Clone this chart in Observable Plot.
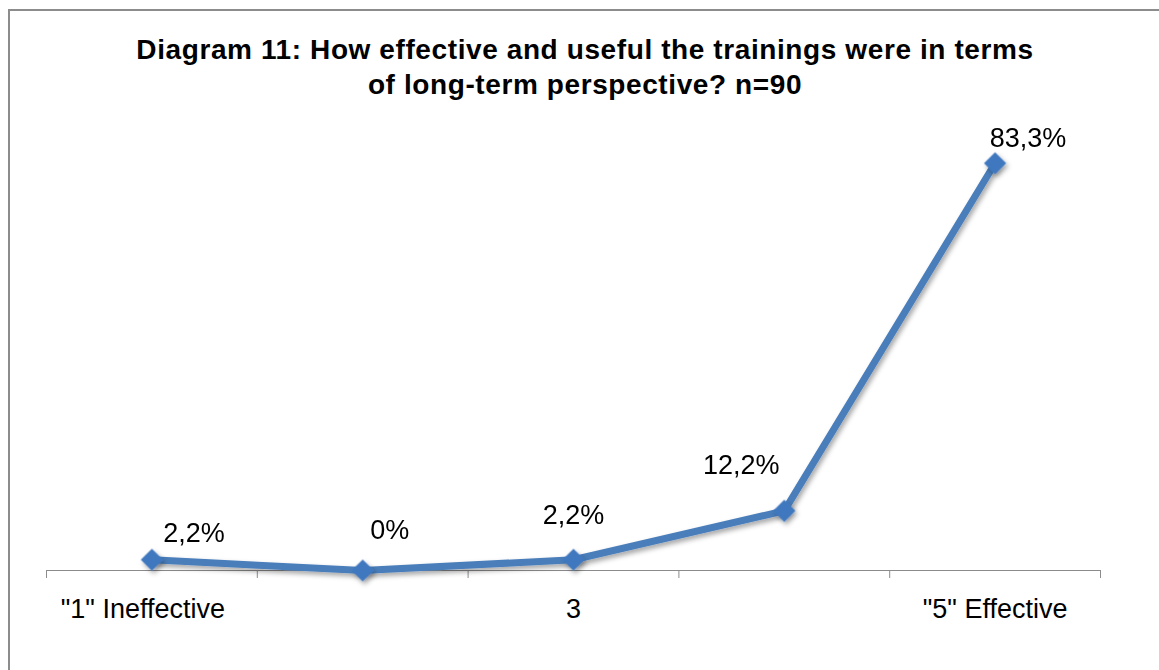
<!DOCTYPE html>
<html>
<head>
<meta charset="utf-8">
<script src="https://cdn.jsdelivr.net/npm/d3@7"></script>
<script src="https://cdn.jsdelivr.net/npm/@observablehq/plot@0.6"></script>
<style>
  html, body { margin: 0; padding: 0; background: #fff; width: 1159px; height: 670px; overflow: hidden; }
  #frame { position: absolute; left: 8px; top: 9px; width: 1200px; height: 700px;
           border-left: 2px solid #8c8c8c; border-top: 2px solid #8c8c8c; }
  #title { position: absolute; left: 11px; top: 0; width: 1148px; padding-top: 32px;
           text-align: center; font-family: "Liberation Sans", Arial, sans-serif; font-weight: bold;
           font-size: 28px; line-height: 35px; color: #000; letter-spacing: 0.6px; }
  #chart { position: absolute; left: 0; top: 110px; }
</style>
</head>
<body>
<div id="frame"></div>
<div id="title">Diagram 11: How effective and useful the trainings were in terms<br>of long-term perspective? n=90</div>
<div id="chart"></div>
<script>
const categories = ["\"1\" Ineffective", "2", "3", "4", "\"5\" Effective"];
const tickLabels = ["\"1\" Ineffective", "", "3", "", "\"5\" Effective"];
const values = [2.2, 0, 2.2, 12.2, 83.3];
const valueLabels = ["2,2%", "0%", "2,2%", "12,2%", "83,3%"];

const data = categories.map((c, i) => ({pos: i + 1, cat: c, value: values[i], label: valueLabels[i], tick: tickLabels[i]}));
const boundaries = d3.range(0, categories.length + 1).map(i => i + 0.5);

// label placement (style config, pixels)
const labelOffsets = [[42, -26], [27, -40], [0, -44], [-43, -45], [33, -25]];
const tickDx = [-9, 0, 0, 0, 0];

const blue = "#4a7ebb";
const font = "Liberation Sans, Arial, sans-serif";

const chart = Plot.plot({
  width: 1159,
  height: 560,
  marginLeft: 46,
  marginRight: 59,
  marginTop: 20,
  marginBottom: 100,
  style: {fontFamily: font, background: "transparent", overflow: "visible"},
  x: {domain: [0.5, categories.length + 0.5], axis: null},
  y: {domain: [0, 90], axis: null},
  marks: [
    Plot.ruleY([0], {stroke: "#8c8c8c", strokeWidth: 1}),
    Plot.axisX(boundaries, {tickSize: 8, tickFormat: () => "", label: null, stroke: "#8c8c8c", strokeWidth: 1}),
    ...data.filter(d => d.tick !== "").map(d => Plot.text([d], {x: "pos", text: "tick", frameAnchor: "bottom", dx: tickDx[d.pos - 1], dy: 47, fontSize: 27, fill: "#000"})),
    Plot.line(data, {x: "pos", y: "value", stroke: blue, strokeWidth: 7, strokeLinejoin: "round"}),
    Plot.dot(data, {x: "pos", y: "value", symbol: "diamond2", r: 10, fill: "#4078bf", stroke: "none"}),
    ...data.map((d, i) => Plot.text([d], {x: "pos", y: "value", text: "label", dx: labelOffsets[i][0], dy: labelOffsets[i][1], fontSize: 27, fill: "#000"}))
  ]
});

// drop shadow filter
const svg = d3.select(chart);
const defs = svg.insert("defs", ":first-child");
const f = defs.append("filter").attr("id", "shadow").attr("x", "-20%").attr("y", "-20%").attr("width", "140%").attr("height", "140%");
f.append("feDropShadow").attr("dx", 2).attr("dy", 3).attr("stdDeviation", 2.5).attr("flood-color", "#000").attr("flood-opacity", 0.35);
svg.selectAll('g[aria-label="line"], g[aria-label="dot"]').attr("filter", "url(#shadow)");

document.getElementById("chart").appendChild(chart);
</script>
</body>
</html>
